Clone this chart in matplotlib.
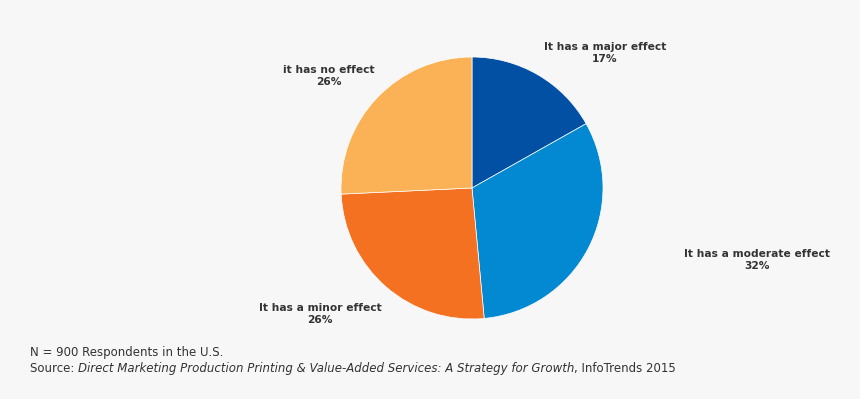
import matplotlib
matplotlib.use('Agg')
import matplotlib.pyplot as plt

# Survey answers (clockwise from 12 o'clock)
labels = ['It has a major effect', 'It has a moderate effect',
          'It has a minor effect', 'it has no effect']
shares = [17, 32, 26, 26]
colors = ['#0250a3', '#0389d1', '#f37121', '#fbb256']

# label anchor positions in pixels (x, y from top)
label_pos = [(605, 53), (757, 260), (320, 314), (329, 76)]

note = 'N = 900 Respondents in the U.S.'
source_parts = [('Source: ', 'normal'),
                ('Direct Marketing Production Printing & Value-Added Services: '
                 'A Strategy for Growth', 'italic'),
                (', InfoTrends 2015', 'normal')]

W, H = 860, 399
fig = plt.figure(figsize=(W / 100, H / 100), dpi=100)
fig.patch.set_facecolor('#f7f7f7')

cx, cy, r = 472, 188, 131
ax = fig.add_axes([(cx - r) / W, (H - cy - r) / H, 2 * r / W, 2 * r / H])
ax.pie(shares, colors=colors, startangle=90, counterclock=False, radius=1,
       wedgeprops=dict(edgecolor='white', linewidth=0.5))
ax.set_xlim(-1, 1)
ax.set_ylim(-1, 1)
ax.set_aspect('equal')
ax.axis('off')

for lab, val, (px, py) in zip(labels, shares, label_pos):
    fig.text(px / W, 1 - py / H, f'{lab}\n{val}%', ha='center', va='center',
             fontsize=7.7, fontweight='bold', color='#333333', linespacing=1.3)

fig.text(30 / W, 1 - 356 / H, note, ha='left', va='baseline',
         fontsize=8.45, color='#333333')

# source line, built from pieces so the title can be italic
renderer = fig.canvas.get_renderer()
x = 30
for txt, st in source_parts:
    t = fig.text(x / W, 1 - 372 / H, txt, ha='left', va='baseline',
                 fontsize=8.45, color='#333333', style=st)
    x += t.get_window_extent(renderer).width

fig.savefig('out.png', dpi=100, facecolor=fig.get_facecolor())
